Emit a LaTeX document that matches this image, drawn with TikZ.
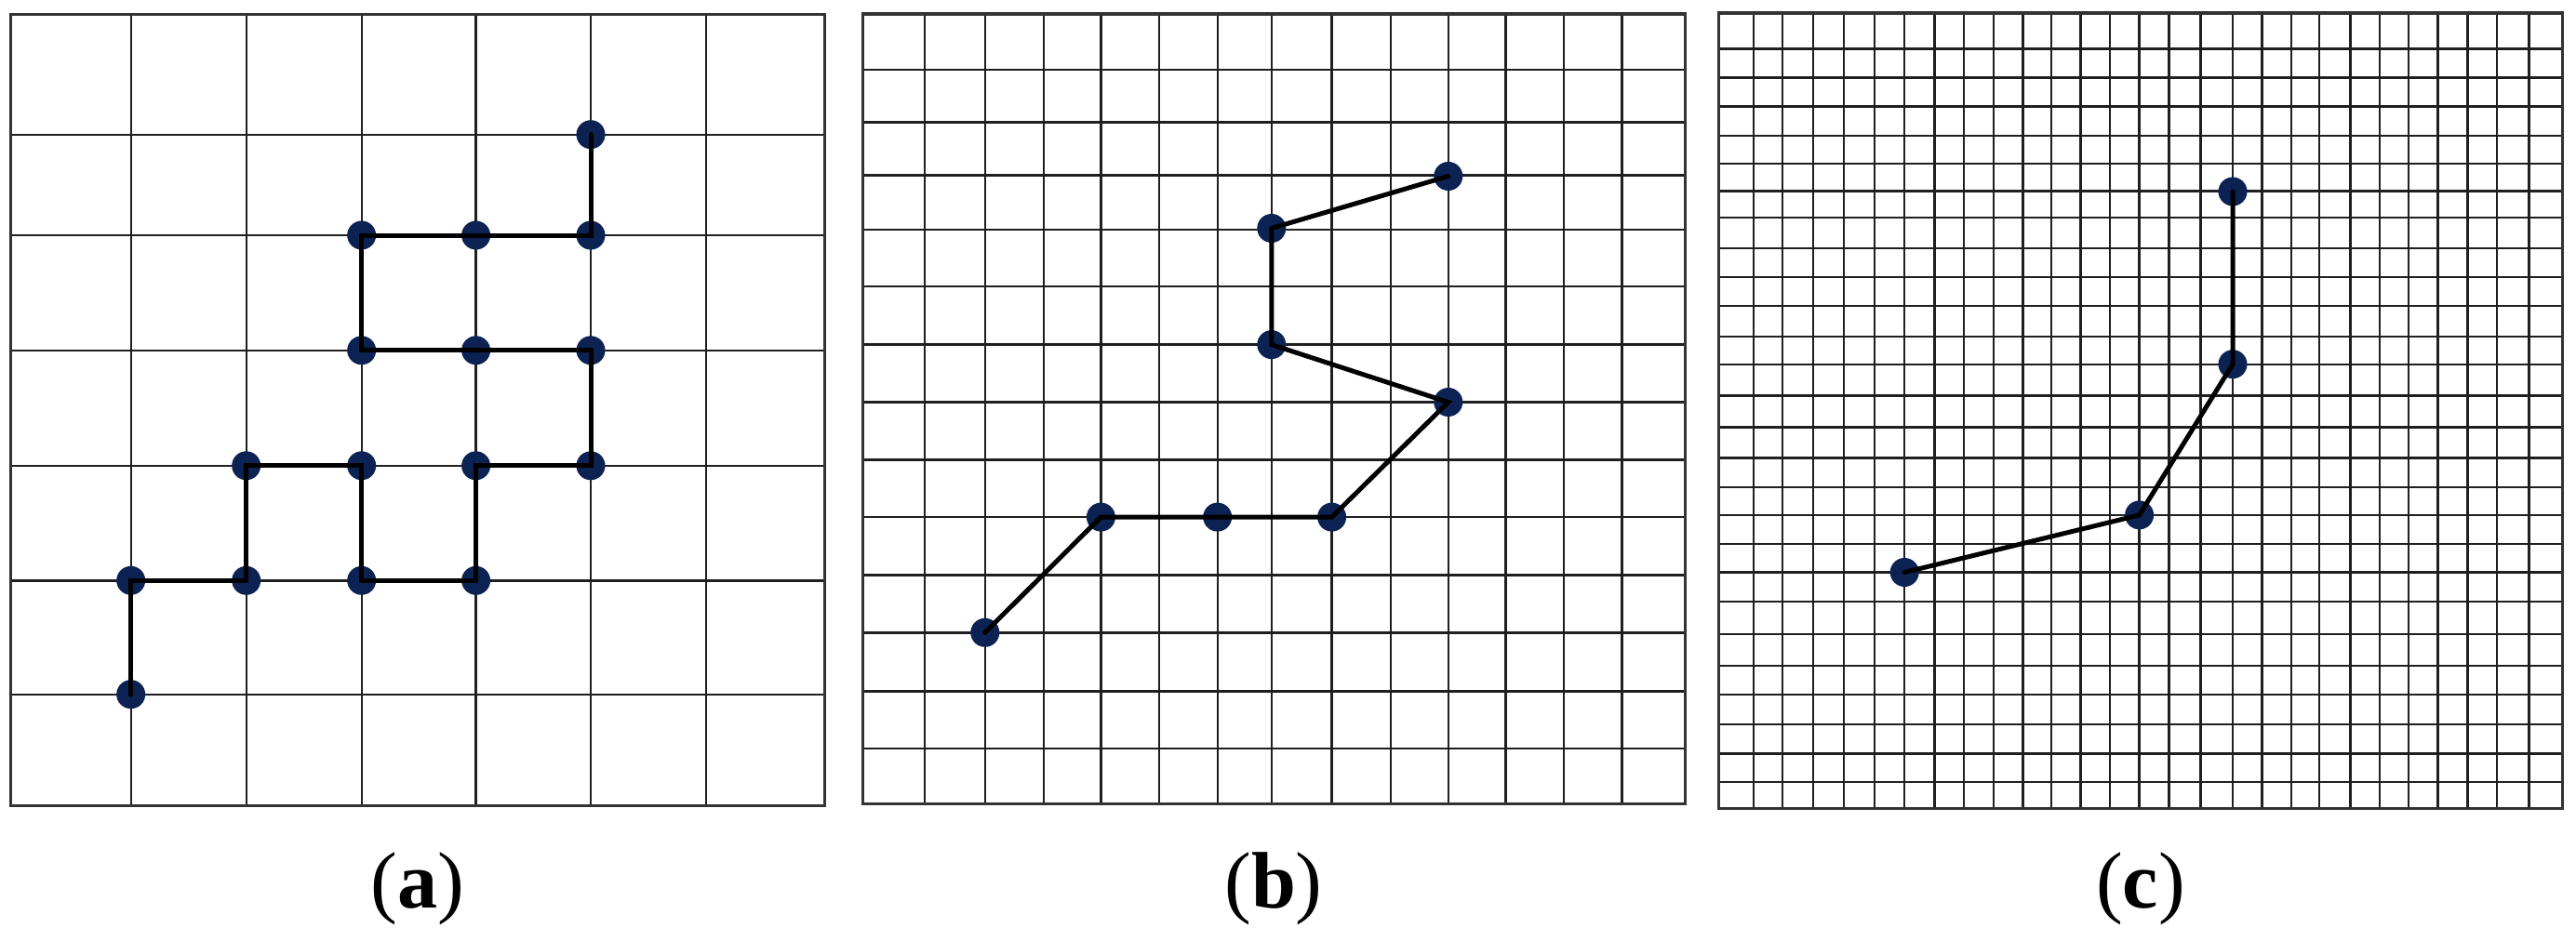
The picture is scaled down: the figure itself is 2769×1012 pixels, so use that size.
\documentclass[tikz,border=0pt]{standalone}
\usepackage{fontspec}
\setmainfont{Liberation Serif}
\definecolor{dotblue}{RGB}{11,34,82}
\begin{document}
\begin{tikzpicture}[x=0.01cm,y=-0.01cm,
  gridline/.style={draw=black!88,line width=0.024cm},
  framebox/.style={draw=black!80,line width=0.03cm},
  dot/.style={circle,fill=dotblue,inner sep=0pt,minimum size=0.31cm},
  link/.style={draw=black,line width=0.05cm,line cap=round},
  caption/.style={font=\fontsize{24.5}{29}\selectfont,anchor=base,inner sep=0pt}]
\useasboundingbox (0,0) rectangle (2769,1012);

% ---------- panel (a) ----------
\foreach \x in {140.7,264.7,388.7,511.6,635.0,759.0}
  \draw[gridline] (\x,15.5) -- (\x,866);
\foreach \y in {144.7,253,376.8,500.8,624.3,746.7}
  \draw[gridline] (11.7,\y) -- (886.7,\y);
\draw[framebox] (11.7,15.5) rectangle (886.7,866);

\node[dot] (a1) at (140.7,746.7) {};
\node[dot] (a2) at (140.7,624.3) {};
\node[dot] (a3) at (264.7,624.3) {};
\node[dot] (a4) at (264.7,500.8) {};
\node[dot] (a5) at (388.7,500.8) {};
\node[dot] (a6) at (388.7,624.3) {};
\node[dot] (a7) at (511.6,624.3) {};
\node[dot] (a8) at (511.6,500.8) {};
\node[dot] (a9) at (635.0,500.8) {};
\node[dot] (a10) at (635.0,376.8) {};
\node[dot] (a11) at (511.6,376.8) {};
\node[dot] (a12) at (388.7,376.8) {};
\node[dot] (a13) at (388.7,253) {};
\node[dot] (a14) at (511.6,253) {};
\node[dot] (a15) at (635.0,253) {};
\node[dot] (a16) at (635.0,144.7) {};
\draw[link] (a1.center) -- (a2.center) -- (a3.center) -- (a4.center) -- (a5.center)
  -- (a6.center) -- (a7.center) -- (a8.center) -- (a9.center) -- (a10.center)
  -- (a11.center) -- (a12.center) -- (a13.center) -- (a14.center) -- (a15.center)
  -- (a16.center);
\node[caption] (capa) at (449.2,976) {(\textbf{a})};

% ---------- panel (b) ----------
\foreach \x in {994.0,1058.8,1121.7,1183.4,1245.8,1308.7,1366.8,1431.6,1495.1,1556.8,1618.6,1680.9,1743.3}
  \draw[gridline] (\x,15) -- (\x,864.5);
\foreach \y in {74.7,131.4,188.6,247.0,308.2,370.6,432.5,494.3,556.1,618.5,680.3,743.3,805.1}
  \draw[gridline] (927.5,\y) -- (1811,\y);
\draw[framebox] (927.5,15) rectangle (1811,864.5);

\node[dot] (b1) at (1058.8,680.3) {};
\node[dot] (b2) at (1183.4,556.1) {};
\node[dot] (b3) at (1308.7,556.1) {};
\node[dot] (b4) at (1431.6,556.1) {};
\node[dot] (b5) at (1556.8,432.5) {};
\node[dot] (b6) at (1366.8,370.6) {};
\node[dot] (b7) at (1366.8,245.5) {};
\node[dot] (b8) at (1556.8,189.5) {};
\draw[link] (b1.center) -- (b2.center) -- (b3.center) -- (b4.center) -- (b5.center)
  -- (b6.center) -- (b7.center) -- (b8.center);
\node[caption] (capb) at (1369,976) {(\textbf{b})};

% ---------- panel (c) ----------
\foreach \x in {1885,1915.9,1949.2,1981.8,2015.1,2047.2,2079.3,2110.7,2142.8,2174.3,2205.2,2236.6,2268.1,2299.6,2331.6,2365.5,2400.0,2431.5,2463.0,2493.2,2526.5,2557.9,2588.8,2620.3,2652.4,2683.9,2718.4}
  \draw[gridline] (\x,14) -- (\x,869.3);
\foreach \y in {52.3,83.4,114.4,146.1,176.0,205.3,234.1,266.9,297.9,329.0,361.8,391.7,425.6,459.6,492.4,524.0,553.9,585.0,615.5,647.1,682.2,716.2,747.2,778.9,810.5,841.0}
  \draw[gridline] (1847.5,\y) -- (2754.3,\y);
\draw[framebox] (1847.5,14) rectangle (2754.3,869.3);

\node[dot] (c1) at (2047.2,615.5) {};
\node[dot] (c2) at (2299.6,553.9) {};
\node[dot] (c3) at (2400.0,391.7) {};
\node[dot] (c4) at (2400.0,206.0) {};
\draw[link] (c1.center) -- (c2.center) -- (c3.center) -- (c4.center);
\node[caption] (capc) at (2301,976) {(\textbf{c})};
\end{tikzpicture}
\end{document}
